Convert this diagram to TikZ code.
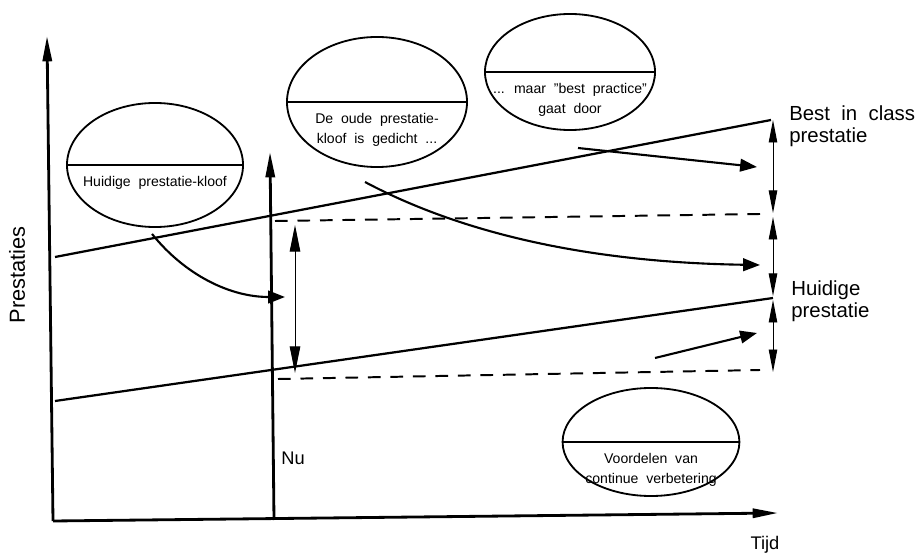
\documentclass[tikz,border=0pt]{standalone}
\usepackage{fontspec}
\setmainfont{Liberation Sans}
\usepackage{tikz}
\usetikzlibrary{arrows.meta,calc,positioning,shapes.geometric}
\tikzset{
  axis/.style={line width=2pt,-{Triangle[length=18pt,width=6.5pt]}},
  perf/.style={line width=1.6pt},
  gap/.style={line width=1.4pt,dash pattern=on 9pt off 7pt},
  dbl/.style={line width=0.7pt,{Triangle[length=16pt,width=6pt]}-{Triangle[length=16pt,width=6pt]}},
  move/.style={line width=1.5pt,-{Triangle[length=12pt,width=9pt]}},
  bubble/.style={ellipse,draw,line width=1.3pt,inner sep=0pt},
  bubtext/.style={font=\fontsize{10}{14}\selectfont,align=center,inner sep=0pt},
  lbl/.style={font=\fontsize{14.5}{15.6}\selectfont,align=left,inner sep=0pt}
}

\begin{document}
\begin{tikzpicture}[x=0.025cm,y=-0.025cm]
\useasboundingbox (0,0) rectangle (920,556);

% axes
\coordinate (origin) at (53,521);
\coordinate (ytop) at (47,36);
\coordinate (xend) at (778,513);
\draw[axis] (origin) -- (ytop);
\draw[axis] (origin) -- (xend);
\node[lbl,rotate=90,font=\fontsize{15.5}{17}\selectfont] (prest) at (17,275) {Prestaties};
\node[lbl,font=\fontsize{13}{14}\selectfont] (tijd) at (765,545) {Tijd};

% now
\coordinate (nubot) at (274,520);
\coordinate (nutop) at (270,152);
\draw[axis] (nubot) -- (nutop);
\node[lbl,font=\fontsize{13}{14}\selectfont] (nu) at (293,458) {Nu};

% performance lines
\coordinate (bestL) at (55,257);
\coordinate (bestR) at (771,120);
\coordinate (huidL) at (55,401);
\coordinate (huidR) at (773,298);
\draw[perf] (bestL) -- (bestR);
\draw[perf] (huidL) -- (huidR);
\node[lbl,anchor=west] (bestlbl) at (789,126) {Best \ in \ class\\prestatie};
\node[lbl,anchor=west] (huidlbl) at (791,301) {Huidige\\prestatie};

% gap lines
\coordinate (gapA) at (275,221);
\coordinate (gapB) at (760,214);
\coordinate (gapC) at (278,379);
\coordinate (gapD) at (760,370);
\draw[gap] (gapA) -- (gapB);
\draw[gap] (gapC) -- (gapD);
\draw[dbl,{Triangle[length=19pt,width=7.5pt]}-{Triangle[length=19pt,width=7.5pt]}] (295,225) -- (295,373);

% right side
\coordinate (r1) at (773,120);
\coordinate (r2) at (773,213);
\coordinate (r3) at (773,217);
\coordinate (r4) at (773,296);
\coordinate (r5) at (773,300);
\coordinate (r6) at (773,372);
\draw[dbl] (r1) -- (r2);
\draw[dbl] (r3) -- (r4);
\draw[dbl] (r5) -- (r6);

% bubbles
\node[bubble,minimum width=4.4cm,minimum height=3.1cm] (kloof) at (155,165) {};
\draw[line width=1.3pt] (kloof.west) -- (kloof.east);
\node[bubtext,yshift=-13pt] (kloofT) at (kloof.center) {Huidige \ prestatie-kloof};

\node[bubble,minimum width=4.5cm,minimum height=3.25cm] (gedicht) at (377,102) {};
\draw[line width=1.3pt] (gedicht.west) -- (gedicht.east);
\node[bubtext,yshift=-20pt] (gedichtT) at (gedicht.center) {De \ oude \ prestatie-\\kloof \ is \ gedicht \ ...};

\node[bubble,minimum width=4.25cm,minimum height=2.9cm] (bestpr) at (570,72) {};
\draw[line width=1.3pt] (bestpr.west) -- (bestpr.east);
\node[bubtext,yshift=-20pt] (bestprT) at (bestpr.center) {... \ maar \ "best \ practice"\\gaat \ door};

\node[bubble,minimum width=4.42cm,minimum height=2.7cm] (voordelen) at (651,442) {};
\draw[line width=1.3pt] (voordelen.west) -- (voordelen.east);
\node[bubtext,yshift=-20pt] (voordelenT) at (voordelen.center) {Voordelen \ van\\continue \ verbetering};

% moves
\coordinate (m1) at (285,297);
\coordinate (m2s) at (365,182);
\coordinate (m2) at (760,265);
\coordinate (m3s) at (578,148);
\coordinate (m3) at (757,167);
\coordinate (m4s) at (655,358);
\coordinate (m4) at (757,333);
\draw[move] ($(kloof.south)+(-3,6)$) .. controls (185,275) and (230,297) .. (m1);
\draw[move] (m2s) .. controls (440,222) and (560,262) .. (m2);
\draw[move] (m3s) -- (m3);
\draw[move] (m4s) -- (m4);
\end{tikzpicture}
\end{document}
